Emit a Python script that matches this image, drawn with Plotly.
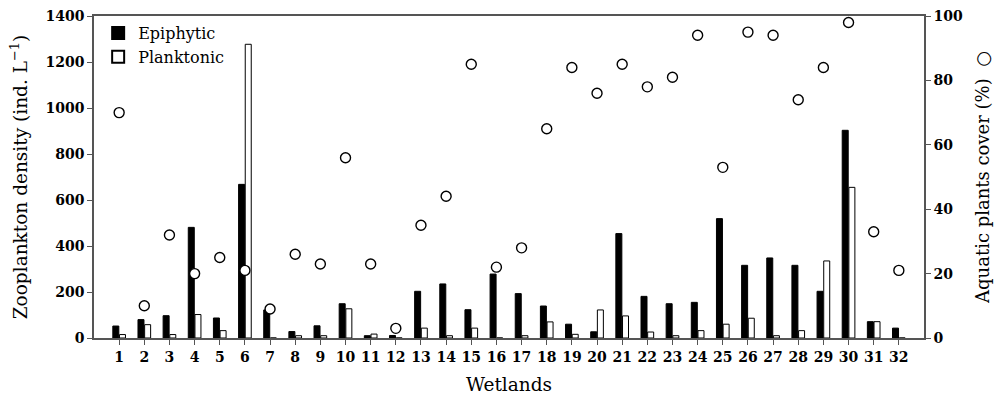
import plotly.graph_objects as go

wetlands = list(range(1, 33))
epiphytic = [52, 80, 97, 481, 87, 668, 122, 28, 53, 149, 10, 11, 203, 235, 123, 278,
             193, 139, 60, 27, 454, 181, 149, 155, 519, 316, 348, 316, 203, 903, 71, 43]
planktonic = [15, 58, 15, 102, 32, 1277, 0, 10, 10, 127, 17, 0, 43, 10, 43, 0,
              10, 70, 16, 122, 96, 26, 10, 32, 60, 86, 10, 32, 335, 655, 71, 0]
cover = [70, 10, 32, 20, 25, 21, 9, 26, 23, 56, 23, 3, 35, 44, 85, 22,
         28, 65, 84, 76, 85, 78, 81, 94, 53, 95, 94, 74, 84, 98, 33, 21]

FONT = "DejaVu Serif"
AX = "#555555"
TICKFONT = dict(family=FONT, size=14, color="black", weight="bold")

fig = go.Figure()
fig.add_trace(go.Bar(x=wetlands, y=epiphytic, name="Epiphytic",
                     marker=dict(color="black", line=dict(color="black", width=1))))
fig.add_trace(go.Bar(x=wetlands, y=planktonic, name="Planktonic",
                     marker=dict(color="white", line=dict(color="black", width=1))))
fig.add_trace(go.Scatter(x=wetlands, y=cover, mode="markers", yaxis="y2",
                         showlegend=False,
                         marker=dict(symbol="circle", size=10, color="white",
                                     line=dict(width=1.4, color="black"))))

fig.update_layout(
    width=994, height=402,
    margin=dict(l=94, r=70, t=16, b=64, autoexpand=False),
    plot_bgcolor="white", paper_bgcolor="white",
    barmode="group", bargap=0.47, bargroupgap=0.1,
    font=dict(family=FONT, size=15, color="black"),
    legend=dict(x=0.005, y=1.0, xanchor="left", yanchor="top",
                bgcolor="rgba(0,0,0,0)", font=dict(size=16), tracegroupgap=0,
                itemsizing="constant"),
    xaxis=dict(range=[0, 33], tickmode="array", tickvals=wetlands,
               ticktext=[str(w) for w in wetlands],
               showline=True, linecolor=AX, linewidth=1.5, mirror=True,
               ticks="outside", ticklen=5, tickcolor=AX,
               showgrid=False, zeroline=False, automargin=False,
               title=dict(text="Wetlands", font=dict(size=18.5), standoff=15),
               tickfont=TICKFONT),
    yaxis=dict(range=[0, 1400], tickvals=[0, 200, 400, 600, 800, 1000, 1200, 1400],
               showline=True, linecolor=AX, linewidth=1.5,
               ticks="outside", ticklen=5, tickcolor=AX,
               showgrid=False, zeroline=False, automargin=False,
               title=dict(text="Zooplankton density (ind. L<sup>−1</sup>)",
                          font=dict(size=18.5), standoff=13),
               tickfont=TICKFONT),
    yaxis2=dict(range=[0, 100], tickvals=[0, 20, 40, 60, 80, 100],
                overlaying="y", side="right",
                showline=True, linecolor=AX, linewidth=1.5,
                ticks="outside", ticklen=5, tickcolor=AX,
                showgrid=False, zeroline=False, automargin=False,
                title=dict(text="Aquatic plants cover (%)  ○",
                           font=dict(size=18), standoff=14),
                tickfont=TICKFONT),
)

fig.write_html("out.html")
